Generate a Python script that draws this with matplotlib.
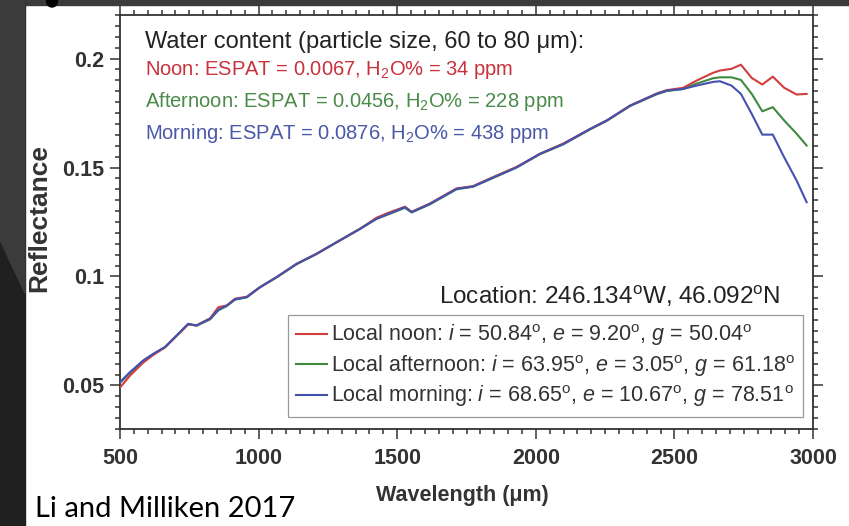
import numpy as np
import matplotlib.pyplot as plt
from matplotlib.patches import Polygon, Rectangle, Ellipse
from matplotlib.ticker import MultipleLocator

plt.rcParams['font.family'] = ['Liberation Sans', 'DejaVu Sans']
plt.rcParams['mathtext.fontset'] = 'custom'
plt.rcParams['mathtext.rm'] = 'Liberation Sans'
plt.rcParams['mathtext.it'] = 'Liberation Sans:italic'
plt.rcParams['mathtext.bf'] = 'Liberation Sans:bold'

# spectra (wavelength in the axis units, reflectance)
wl = [500, 536, 584, 620, 662, 704, 746, 776, 825, 855, 885, 915, 957, 1005,
      1065, 1137, 1209, 1281, 1366, 1426, 1474, 1528, 1552, 1618, 1714, 1774,
      1835, 1931, 2015, 2099, 2196, 2256, 2340, 2436, 2472, 2532, 2580, 2640,
      2664, 2706, 2740, 2779, 2817, 2855, 2896, 2941, 2977]

noon = [0.0490, 0.0545, 0.0605, 0.0640, 0.0674, 0.0727, 0.0780, 0.0776, 0.0808,
        0.0859, 0.0867, 0.0898, 0.0907, 0.0951, 0.0997, 0.1058, 0.1104, 0.1157,
        0.1219, 0.1270, 0.1295, 0.1320, 0.1297, 0.1335, 0.1404, 0.1415, 0.1450,
        0.1503, 0.1563, 0.1610, 0.1677, 0.1716, 0.1784, 0.1840, 0.1855, 0.1866,
        0.1899, 0.1935, 0.1945, 0.1953, 0.1972, 0.1911, 0.1881, 0.1917, 0.1866,
        0.1835, 0.1838]

afternoon = [0.0512, 0.0558, 0.0613, 0.0644, 0.0675, 0.0728, 0.0781, 0.0774, 0.0803,
             0.0845, 0.0864, 0.0894, 0.0904, 0.0950, 0.0996, 0.1056, 0.1103, 0.1156,
             0.1218, 0.1265, 0.1288, 0.1315, 0.1294, 0.1331, 0.1400, 0.1412, 0.1446,
             0.1500, 0.1561, 0.1606, 0.1675, 0.1714, 0.1782, 0.1836, 0.1851, 0.1860,
             0.1885, 0.1910, 0.1914, 0.1914, 0.1902, 0.1838, 0.1758, 0.1777, 0.1716,
             0.1655, 0.1601]

morning = [0.0515, 0.0561, 0.0615, 0.0645, 0.0676, 0.0729, 0.0783, 0.0775, 0.0806,
           0.0847, 0.0866, 0.0895, 0.0905, 0.0951, 0.0997, 0.1058, 0.1104, 0.1157,
           0.1219, 0.1265, 0.1290, 0.1318, 0.1295, 0.1333, 0.1402, 0.1413, 0.1448,
           0.1501, 0.1563, 0.1608, 0.1677, 0.1716, 0.1784, 0.1838, 0.1853, 0.1861,
           0.1876, 0.1893, 0.1896, 0.1876, 0.1838, 0.1746, 0.1651, 0.1651, 0.1547,
           0.1440, 0.1341]

deg = r'$^{\rm o}$'
legend_labels = [
    'Local noon: $i$ = 50.84' + deg + ', $e$ = 9.20' + deg + ', $g$ = 50.04' + deg,
    'Local afternoon: $i$ = 63.95' + deg + ', $e$ = 3.05' + deg + ', $g$ = 61.18' + deg,
    'Local morning: $i$ = 68.65' + deg + ', $e$ = 10.67' + deg + ', $g$ = 78.51' + deg,
]
water_lines = [
    'Noon: ESPAT = 0.0067, H$_2$O% = 34 ppm',
    'Afternoon: ESPAT = 0.0456, H$_2$O% = 228 ppm',
    'Morning: ESPAT = 0.0876, H$_2$O% = 438 ppm',
]
col_line = ['#d23c3c', '#3f8a3f', '#4352b0']
col_text = ['#c8323c', '#4a8a4a', '#4a58a8']

W, H = 849, 526
fig = plt.figure(figsize=(W / 100, H / 100), dpi=100, facecolor='white')

def px(x, y):
    return x / W, 1 - y / H

# slide background around the picture
fig.patches.append(Rectangle((0, 1 - 5 / H), 1, 5 / H, transform=fig.transFigure,
                             color='#3b3b3b', zorder=0))
fig.patches.append(Rectangle((0, 0), 25 / W, 1, transform=fig.transFigure,
                             color='#202020', zorder=0))
fig.patches.append(Polygon([px(0, 0), px(25, 0), px(25, 293), px(0, 240)],
                           closed=True, transform=fig.transFigure,
                           color='#3b3b3b', zorder=0))
# bit of the cropped panel letter at the top edge
fig.patches.append(Ellipse(px(52, 1), 11 / W, 12 / H, transform=fig.transFigure,
                           color='black', zorder=1))

ax = fig.add_axes([120 / W, 1 - 429 / H, 693 / W, 414 / H])
ax.plot(wl, noon, color=col_line[0], lw=1.5, label=legend_labels[0], zorder=3)
ax.plot(wl, afternoon, color=col_line[1], lw=1.5, label=legend_labels[1], zorder=2)
ax.plot(wl, morning, color=col_line[2], lw=1.5, label=legend_labels[2], zorder=4)

ax.set_xlim(500, 3000)
ax.set_ylim(0.03, 0.22)
ax.set_xticks([500, 1000, 1500, 2000, 2500, 3000])
ax.set_yticks([0.05, 0.1, 0.15, 0.2])
ax.set_yticklabels(['0.05', '0.1', '0.15', '0.2'])
ax.xaxis.set_minor_locator(MultipleLocator(50))
ax.yaxis.set_minor_locator(MultipleLocator(0.005))
ax.tick_params(which='both', direction='out', top=True, right=True,
               color='#333333', width=1.1)
ax.tick_params(which='major', length=7, labelsize=15.5, labelcolor='#333333')
ax.tick_params(axis='x', which='major', pad=7)
ax.tick_params(axis='y', which='major', pad=4)
ax.tick_params(which='minor', length=3.5)
for lab in ax.get_xticklabels() + ax.get_yticklabels():
    lab.set_fontweight('bold')
for s in ax.spines.values():
    s.set_color('#333333')
    s.set_linewidth(1.3)

leg = ax.legend(loc='lower right', bbox_to_anchor=(0.9856, 0.029), fontsize=15.5,
                frameon=True, fancybox=False, edgecolor='#999999', framealpha=1,
                handlelength=1.45, handletextpad=0.2, borderpad=0.35,
                labelspacing=0.22, borderaxespad=0)
leg.get_frame().set_linewidth(0.9)
for t in leg.get_texts():
    t.set_color('#333333')

fig.text(*px(145, 48), 'Water content (particle size, 60 to 80 \u03bcm):',
         fontsize=17, color='#222222', va='baseline')
for i, (s, yb) in enumerate(zip(water_lines, [75, 107, 139])):
    fig.text(*px(145, yb), s, fontsize=14.5, color=col_text[i], va='baseline')

fig.text(*px(780, 304), 'Location: 246.134' + deg + 'W, 46.092' + deg + 'N',
         fontsize=17.5, color='#222222', va='baseline', ha='right')

fig.text(*px(39, 218), 'Reflectance', rotation=90, fontsize=19, fontweight='bold',
         color='#333333', ha='center', va='center')
fig.text(*px(462, 495), 'Wavelength (\u03bcm)', fontsize=15.5, fontweight='bold',
         color='#333333', ha='center', va='center')

fig.text(*px(35, 517), 'Li and Milliken 2017', fontsize=21, color='black',
         va='baseline', family=['Lato', 'DejaVu Sans'])

fig.savefig('out.png', dpi=100, facecolor=fig.get_facecolor())
